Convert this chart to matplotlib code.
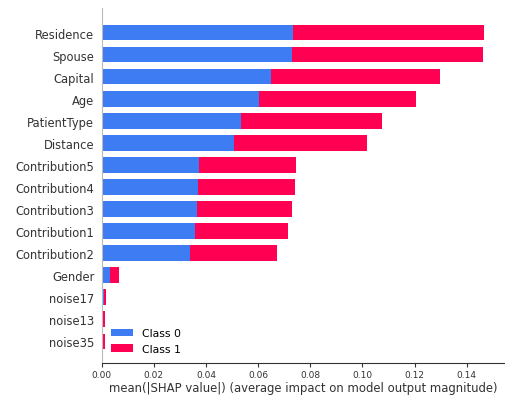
import matplotlib
matplotlib.use("Agg")
import matplotlib.pyplot as plt
import numpy as np

features = ["Residence", "Spouse", "Capital", "Age", "PatientType", "Distance",
            "Contribution5", "Contribution4", "Contribution3", "Contribution1",
            "Contribution2", "Gender", "noise17", "noise13", "noise35"]
class0 = [0.0735, 0.0731, 0.0649, 0.0605, 0.0534, 0.0507, 0.0373, 0.0368,
          0.0366, 0.0358, 0.0338, 0.0033, 0.0007, 0.0006, 0.0006]
class1 = [0.0733, 0.0730, 0.0650, 0.0601, 0.0540, 0.0509, 0.0374, 0.0375,
          0.0363, 0.0357, 0.0336, 0.0035, 0.0008, 0.0008, 0.0008]
class_names = ["Class 0", "Class 1"]
class_colors = ["#3d7cf2", "#ff0052"]
xticks = [0.00, 0.02, 0.04, 0.06, 0.08, 0.10, 0.12, 0.14]

axis_color = "#333333"

fig = plt.figure(figsize=(5.05, 4.10), dpi=100)
ax = fig.add_axes([0.2014, 0.1115, 0.7966, 0.8655])

n = len(features)
y_pos = np.arange(n)[::-1]
left = np.zeros(n)
for vals, name, col in zip([class0, class1], class_names, class_colors):
    vals = np.array(vals)
    ax.barh(y_pos, vals, height=0.7, left=left, color=col, label=name)
    left = left + vals

ax.set_ylim(-1, n + 0.1)
ax.set_xlim(0, 0.1543)
ax.set_yticks(y_pos)
ax.set_yticklabels(features, fontsize=8.3, color=axis_color)
ax.set_xticks(xticks)
ax.set_xticklabels([f"{t:.2f}" for t in xticks], fontsize=6.5, color=axis_color)
ax.set_xlabel("mean(|SHAP value|) (average impact on model output magnitude)",
              fontsize=8.4, color=axis_color, labelpad=1.5)

ax.spines["top"].set_visible(False)
ax.spines["right"].set_visible(False)
ax.spines["left"].set_color("#bbbbbb")
ax.spines["bottom"].set_color(axis_color)
ax.yaxis.set_ticks_position("none")
ax.xaxis.set_ticks_position("bottom")
ax.tick_params(axis="x", colors=axis_color, labelcolor=axis_color, length=3, pad=2)
ax.tick_params(axis="y", length=0, pad=5.3)

ax.legend(frameon=False, fontsize=7.8, loc="lower left", handlelength=2.0)

fig.savefig("out.png", dpi=100)
